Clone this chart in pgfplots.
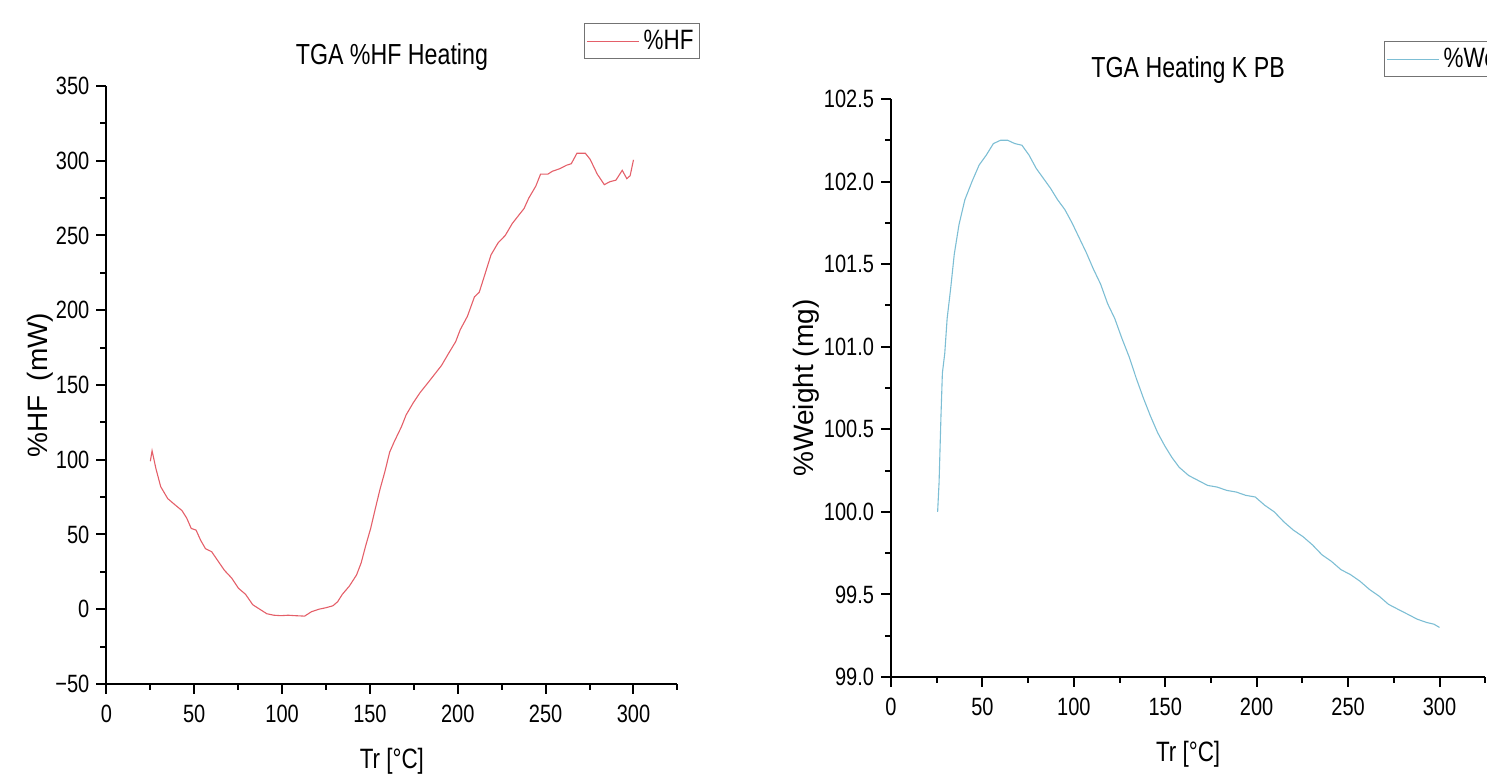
\documentclass[border=0pt]{standalone}
\usepackage{fontspec}
\setmainfont{Liberation Sans}[FakeStretch=0.8]
\newfontfamily\ylabfont{Liberation Sans}
\usepackage{pgfplots}
\pgfplotsset{compat=1.18}
\definecolor{hfred}{RGB}{228,95,105}
\definecolor{wblue}{RGB}{125,190,212}

\pgfplotsset{tgabase/.style={
  scale only axis, anchor=south west,
  axis lines=left, axis line style={-, line width=1pt},
  tick align=outside, major tick length=5pt, minor tick length=3pt,
  every tick/.style={black, line width=1pt},
  tick label style={font=\fontsize{12.5}{14}\selectfont},
  xticklabel style={yshift=-2pt},
  xmin=0, xmax=325,
  xtick={0,50,...,300}, xticklabels={0,50,100,150,200,250,300},
  minor xtick={25,75,...,325},
  xlabel={Tr [°C]},
  xlabel style={at={(axis description cs:0.5,0)}, anchor=center, yshift=-38.5pt, font=\fontsize{14}{16}\selectfont},
  title style={at={(axis description cs:0.5,1)}, anchor=center, yshift=8.5pt, font=\fontsize{14.5}{17}\selectfont},
  ylabel style={anchor=center, font=\ylabfont\fontsize{14}{16}\selectfont},
  legend style={draw=black!55, line width=0.5pt, font=\fontsize{14}{16}\selectfont, inner xsep=1pt, inner ysep=1pt},
  legend image code/.code={\draw[#1] (0pt,0pt) -- (26pt,0pt);},
}}

\begin{document}
\begin{tikzpicture}
\useasboundingbox (0,0) rectangle (743.5pt,387pt);

% left: heat flow
\begin{axis}[tgabase, at={(53.2pt,45pt)}, width=285.5pt, height=299pt,
  ymin=-50, ymax=350, ytick={-50,0,...,350},
  yticklabels={−50,0,50,100,150,200,250,300,350},
  minor ytick={-25,25,...,325},
  title={TGA \%HF Heating},
  ylabel={\%HF\enspace(mW)}, ylabel style={at={(axis description cs:-0.1163,0.5)}},
  legend style={at={(axis description cs:1.0396,1.1045)}, anchor=north east}]
\addplot[hfred, line width=0.55pt] coordinates {
(25,99)(26,106)(28.2,94)(30.9,82)(34.9,74)(38.9,70)(43,66)(45.7,61)(48.3,54)(51,53)
(53.7,46)(56.4,40.5)(59.9,38.5)(63.1,33)(67.2,26)(71.2,21)(75.2,14)(79.2,10)(83.3,3)
(87.3,0)(91.3,-3)(95.3,-4)(99.4,-4.3)(103.4,-4)(107.4,-4.3)(112.8,-4.6)(116.8,-1.6)
(120.9,0)(124.9,1)(128.9,2.3)(131.6,5)(134.3,10)(138.3,15.5)(142.4,23)(145,31)
(147.7,43)(150.4,54)(153.1,67.5)(155.8,80.6)(158.5,92)(161.2,105)(163.8,112)
(167.9,122)(170.6,130)(174.6,138)(178.6,145)(182.7,151)(186.7,157)(190.7,163)
(194.7,171)(198.8,179)(201.4,187)(205.5,196)(209.5,209)(212.2,212)(214.9,222)
(218.9,237)(222.9,245)(227,250)(231,258)(235,264)(237.7,268)(240.4,275)(244.4,283)
(247.1,291)(251.2,291)(253.9,293)(257.9,294.6)(261.9,297)(264.6,298)(267.8,305)
(272.6,305)(275.3,301)(279.4,291)(283.4,284)(286.6,286)(290,287)(293.6,293.6)
(296.2,288)(298.1,290)(300,300.6)};
\addlegendentry{\%HF}
\end{axis}

% right: weight
\begin{axis}[tgabase, at={(445.5pt,48.5pt)}, width=297.1pt, height=289pt,
  ymin=99, ymax=102.5,
  ytick={99,99.5,100,100.5,101,101.5,102,102.5},
  yticklabels={99.0,99.5,100.0,100.5,101.0,101.5,102.0,102.5},
  minor ytick={99.25,99.75,100.25,100.75,101.25,101.75,102.25},
  title={TGA Heating K PB},
  ylabel={\%Weight (mg)}, ylabel style={at={(axis description cs:-0.143,0.5)}},
  legend style={at={(axis description cs:0.8297,1.1003)}, anchor=north west}]
\addplot[wblue, line width=0.55pt] coordinates {
(25.5,100.0)(26.3,100.18)(27.3,100.57)(28.1,100.84)(29.4,100.96)(30.7,101.17)
(32.6,101.35)(34.6,101.56)(37.2,101.74)(40.4,101.89)(44.3,102.0)(48.2,102.10)
(52.1,102.16)(56,102.23)(59.9,102.25)(63.8,102.25)(67.7,102.23)(71.6,102.22)
(75.5,102.16)(79.4,102.08)(83.3,102.02)(87.2,101.96)(91.1,101.89)(95.1,101.83)
(99,101.75)(102.9,101.66)(106.8,101.57)(110.7,101.47)(114.6,101.38)(118.5,101.26)
(122.4,101.17)(126.3,101.05)(130.2,100.94)(134.1,100.81)(138,100.69)(141.9,100.58)
(145.8,100.48)(149.7,100.40)(153.6,100.33)(157.6,100.27)(162.8,100.22)(168,100.19)
(173.2,100.16)(178.4,100.15)(183.6,100.13)(188.8,100.12)(194,100.10)(199.2,100.09)
(204.4,100.04)(209.6,100.0)(214.8,99.94)(220,99.89)(225.3,99.85)(230.5,99.80)
(235.7,99.74)(240.9,99.70)(246.1,99.65)(251.3,99.62)(256.5,99.58)(261.7,99.53)
(266.9,99.49)(272.1,99.44)(277.3,99.41)(282.6,99.38)(287.8,99.35)(293,99.33)
(296.9,99.32)(300,99.30)};
\addlegendentry{\%Weight}
\end{axis}
\end{tikzpicture}
\end{document}
